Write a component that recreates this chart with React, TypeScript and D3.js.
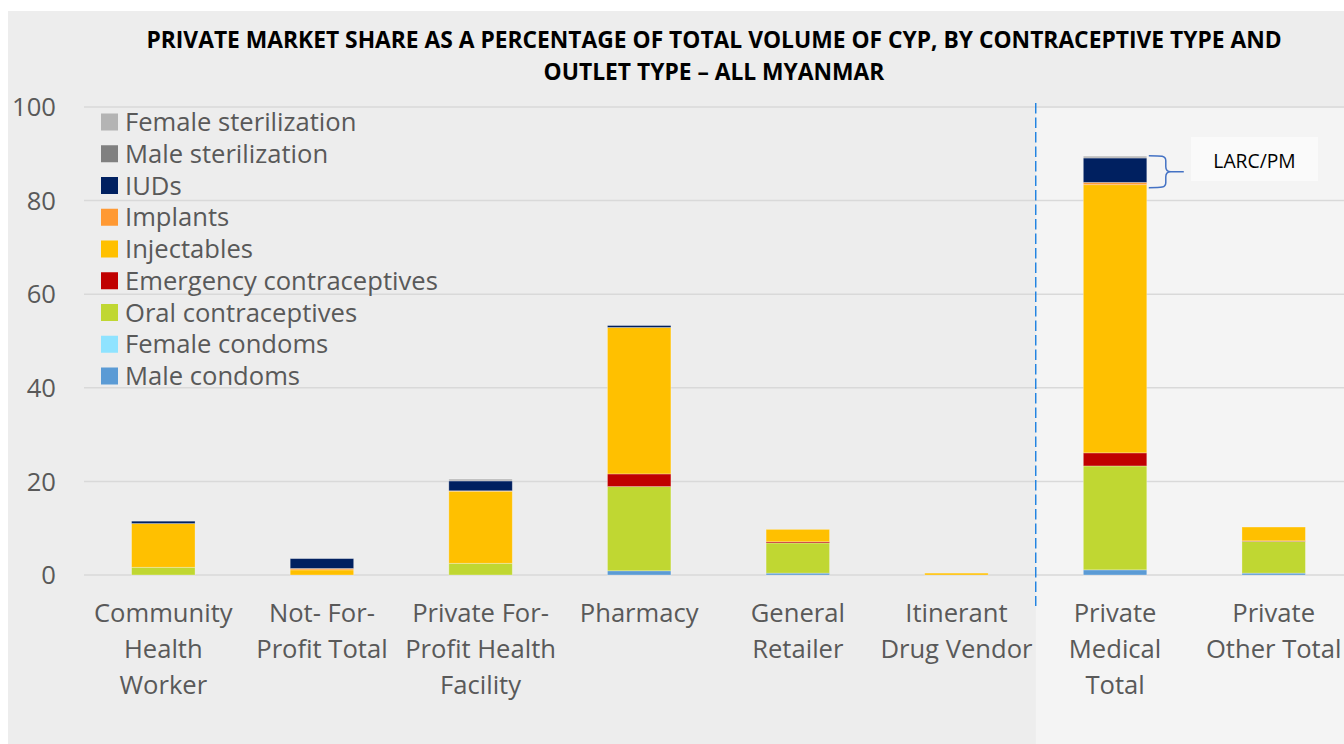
import React from "react";
import * as d3 from "d3";

const categories = [
  "Community Health Worker",
  "Not- For-Profit Total",
  "Private For-Profit Health Facility",
  "Pharmacy",
  "General Retailer",
  "Itinerant Drug Vendor",
  "Private Medical Total",
  "Private Other Total",
];
const categoryLines = [
  ["Community", "Health", "Worker"],
  ["Not- For-", "Profit Total"],
  ["Private For-", "Profit Health", "Facility"],
  ["Pharmacy"],
  ["General", "Retailer"],
  ["Itinerant", "Drug Vendor"],
  ["Private", "Medical", "Total"],
  ["Private", "Other Total"],
];

// stacked bottom-up
const seriesNames = [
  "Male condoms",
  "Female condoms",
  "Oral contraceptives",
  "Emergency contraceptives",
  "Injectables",
  "Implants",
  "IUDs",
  "Male sterilization",
  "Female sterilization",
];
const maleCondoms = [0, 0, 0, 0.9, 0.4, 0, 1.1, 0.4];
const femaleCondoms = [0, 0, 0, 0, 0, 0, 0, 0];
const oralContraceptives = [1.65, 0, 2.5, 18.0, 6.45, 0, 22.2, 6.8];
const emergencyContraceptives = [0, 0, 0, 2.7, 0.25, 0, 2.8, 0.1];
const injectables = [9.35, 1.1, 15.4, 31.3, 2.65, 0.4, 57.3, 2.95];
const implants = [0, 0.3, 0.1, 0, 0, 0, 0.5, 0];
const iuds = [0.5, 2.1, 2.1, 0.4, 0, 0, 5.2, 0];
const maleSterilization = [0, 0, 0, 0, 0, 0, 0, 0];
const femaleSterilization = [0, 0, 0.4, 0, 0, 0, 0.4, 0];
const seriesValues = [
  maleCondoms,
  femaleCondoms,
  oralContraceptives,
  emergencyContraceptives,
  injectables,
  implants,
  iuds,
  maleSterilization,
  femaleSterilization,
];
const seriesColors = [
  "#5b9bd5",
  "#8fe3ff",
  "#c0d732",
  "#c00000",
  "#ffc000",
  "#ff9933",
  "#002060",
  "#808080",
  "#b4b4b4",
];
const yTicks = [0, 20, 40, 60, 80, 100];
const titleLines = [
  "PRIVATE MARKET SHARE AS A PERCENTAGE OF TOTAL VOLUME OF CYP, BY CONTRACEPTIVE TYPE AND",
  "OUTLET TYPE \u2013 ALL MYANMAR",
];
const annotationLabel = "LARC/PM";

const W = 1344;
const H = 744;
const FONT = "'Open Sans', 'Noto Sans', sans-serif";
const LABEL_SIZE = 25.6;

export default function App() {
  const x = d3
    .scaleBand<string>()
    .domain(categories)
    .range([84, 1353])
    .paddingInner(0.6)
    .paddingOuter(0.3);
  const y = d3.scaleLinear().domain([0, 100]).range([575, 107]);

  const table = categories.map((c, i) => {
    const row: Record<string, any> = { category: c };
    seriesNames.forEach((s, k) => (row[s] = seriesValues[k][i]));
    return row;
  });
  const stack = d3.stack<any>().keys(seriesNames)(table);

  const bw = x.bandwidth();
  const splitX = ((x(categories[5]) as number) + bw + (x(categories[6]) as number)) / 2;

  // LARC/PM brace on Private Medical Total
  const pmIdx = 6;
  const larcTop = stack[8][pmIdx][1];
  const larcBot = stack[5][pmIdx][0];
  const bx0 = (x(categories[pmIdx]) as number) + bw + 2;
  const yT = y(larcTop) - 0.5;
  const yB = y(larcBot) + 3;
  const yM = (yT + yB) / 2;
  const bx1 = bx0 + 17;
  const bx2 = bx0 + 35;
  const r = 5;
  const brace = [
    `M${bx0},${yT}`,
    `C${bx1 - 4},${yT} ${bx1},${yT} ${bx1},${yT + r}`,
    `L${bx1},${yM - r}`,
    `C${bx1},${yM - 1} ${bx1 + 2},${yM} ${bx1 + r},${yM}`,
    `L${bx2},${yM}`,
    `M${bx1 + r},${yM}`,
    `C${bx1 + 2},${yM} ${bx1},${yM + 1} ${bx1},${yM + r}`,
    `L${bx1},${yB - r}`,
    `C${bx1},${yB} ${bx1 - 4},${yB} ${bx0},${yB}`,
  ].join(" ");

  const legendOrder = [...seriesNames].map((_, k) => 8 - k);

  return (
    <svg
      width={W}
      height={H}
      style={{ position: "absolute", left: 0, top: 0, display: "block" }}
      fontFamily={FONT}
    >
      <rect x={0} y={0} width={W} height={H} fill="#ffffff" />
      <rect x={8} y={11} width={W - 8} height={H - 11} fill="#ededed" />
      <rect x={splitX} y={108} width={W - splitX} height={H - 108} fill="#f4f4f4" />

      {titleLines.map((t, i) => (
        <text
          key={i}
          x={714}
          y={48 + i * 32}
          textAnchor="middle"
          fontWeight="bold"
          fontSize={22.8}
          fill="#000"
        >
          {t}
        </text>
      ))}

      {yTicks.map((t) => (
        <g key={t}>
          <line x1={84} x2={W} y1={y(t)} y2={y(t)} stroke="#d9d9d9" strokeWidth={1.5} />
          <text
            x={56}
            y={y(t)}
            dy="0.36em"
            textAnchor="end"
            fontSize={LABEL_SIZE}
            fill="#595959"
          >
            {t}
          </text>
        </g>
      ))}

      {stack.map((layer, k) => (
        <g key={layer.key} fill={seriesColors[k]}>
          {layer.map((d, i) =>
            d[1] - d[0] > 0 ? (
              <rect
                key={i}
                x={x(categories[i])}
                y={y(d[1])}
                width={bw}
                height={y(d[0]) - y(d[1])}
                stroke="rgba(255,255,255,0.35)"
                strokeWidth={0.8}
              />
            ) : null
          )}
        </g>
      ))}

      <line
        x1={splitX}
        x2={splitX}
        y1={103}
        y2={606}
        stroke="#1a7fe0"
        strokeWidth={1.4}
        strokeDasharray="10.5 4"
      />

      {categoryLines.map((lines, i) => (
        <text
          key={i}
          x={(x(categories[i]) as number) + bw / 2}
          textAnchor="middle"
          fontSize={LABEL_SIZE}
          fill="#595959"
        >
          {lines.map((l, j) => (
            <tspan key={j} x={(x(categories[i]) as number) + bw / 2} y={622 + j * 36}>
              {l}
            </tspan>
          ))}
        </text>
      ))}

      {legendOrder.map((k, row) => (
        <g key={k} transform={`translate(101, ${122 + row * 31.75})`}>
          <rect x={0} y={-8.5} width={17} height={17} fill={seriesColors[k]} />
          <text x={24} y={0} dy="0.36em" fontSize={LABEL_SIZE} fill="#595959">
            {seriesNames[k]}
          </text>
        </g>
      ))}

      <path d={brace} fill="none" stroke="#4472c4" strokeWidth={1.5} />
      <rect x={1191} y={137} width={127} height={44} fill="#fafafa" />
      <text x={1254.5} y={168} textAnchor="middle" fontSize={19.3} fill="#000">
        {annotationLabel}
      </text>
    </svg>
  );
}
